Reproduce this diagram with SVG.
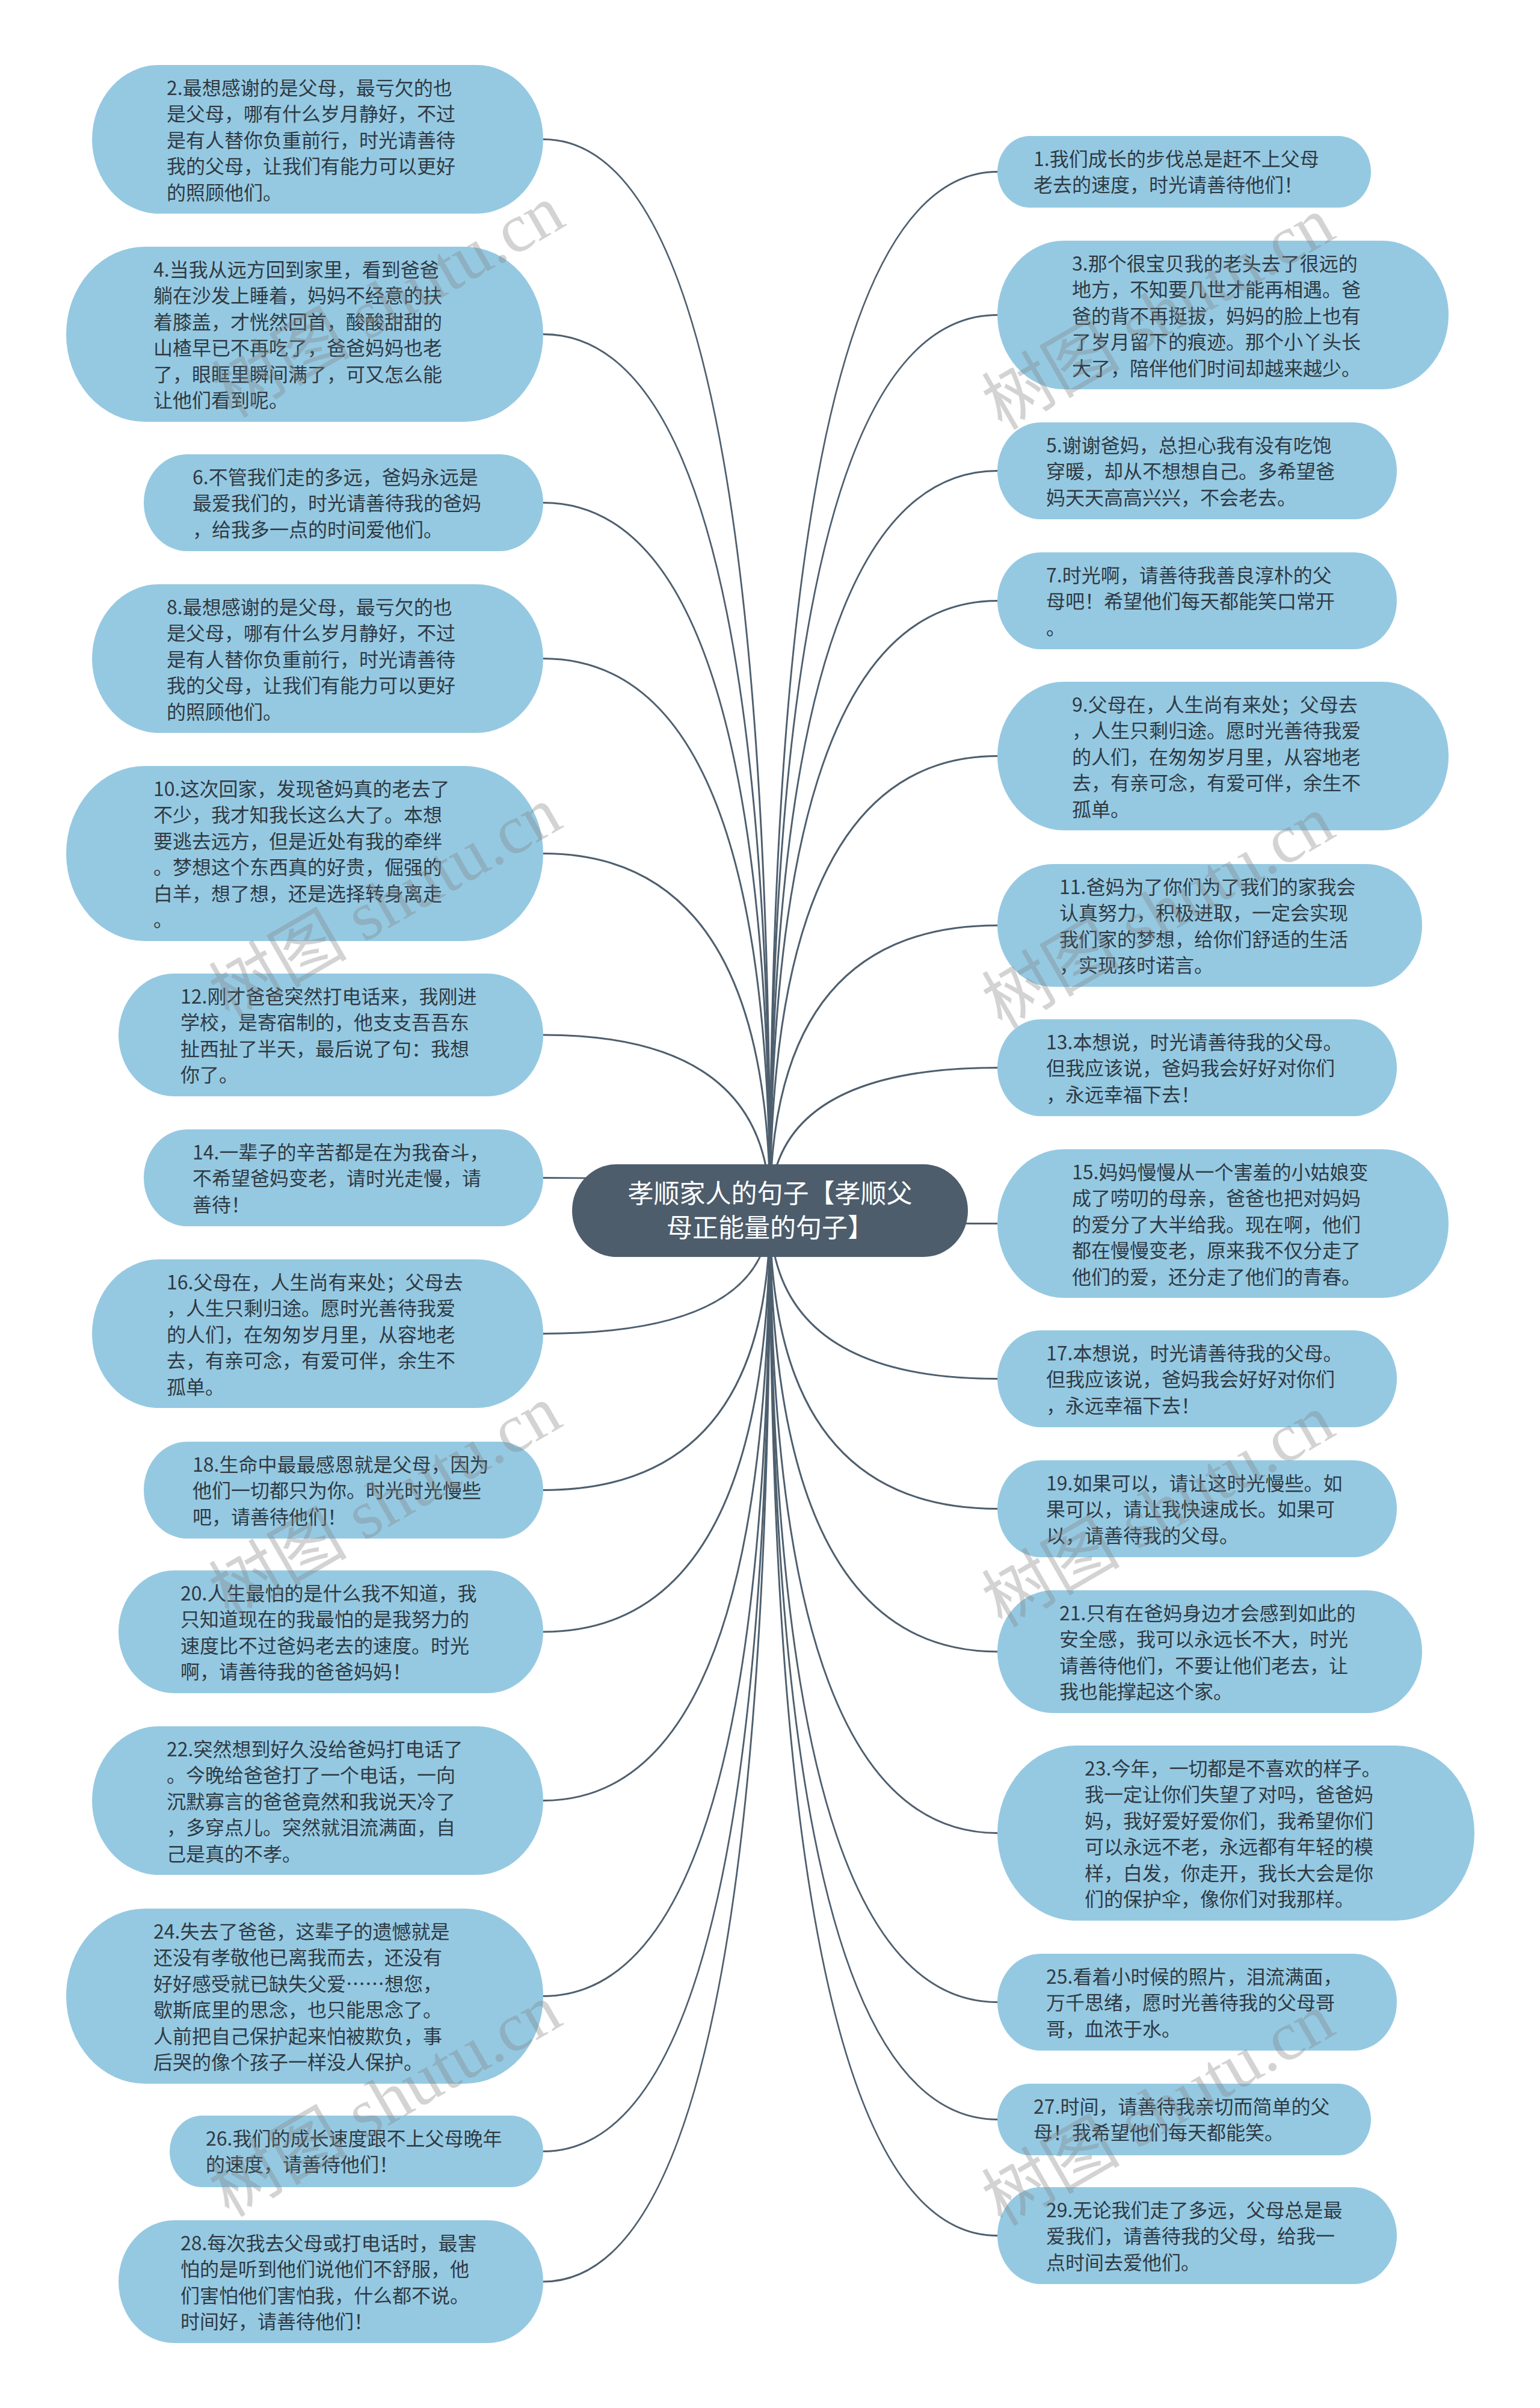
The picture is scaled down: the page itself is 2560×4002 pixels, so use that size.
<svg xmlns="http://www.w3.org/2000/svg" width="2560" height="4002" viewBox="0 0 2560 4002">
<style>
.leaf{fill:#95C9E2}
.t{font-family:"Noto Sans CJK SC","Noto Sans",sans-serif;font-size:32px;fill:#2F3A43}
.ct{font-family:"Noto Sans CJK SC","Noto Sans",sans-serif;font-size:43px;fill:#FFFFFF;text-anchor:middle}
.c{stroke:#4E5F6E;stroke-width:3;fill:none}
.wm{font-family:"Liberation Serif","Noto Sans CJK SC",serif;font-size:115px;fill:#808080;fill-opacity:0.35;text-anchor:middle}
</style>
<rect width="2560" height="4002" fill="#FFFFFF"/>
<g id="connectors">
<path class="c" d="M903 231.5Q1280 231.5 1280 2012"/>
<path class="c" d="M903 555.5Q1280 555.5 1280 2012"/>
<path class="c" d="M903 835.5Q1280 835.5 1280 2012"/>
<path class="c" d="M903 1094.5Q1280 1094.5 1280 2012"/>
<path class="c" d="M903 1418.5Q1280 1418.5 1280 2012"/>
<path class="c" d="M903 1720Q1280 1720 1280 2012"/>
<path class="c" d="M903 1957.5Q1280 1957.5 1280 2012"/>
<path class="c" d="M903 2216.5Q1280 2216.5 1280 2012"/>
<path class="c" d="M903 2476.5Q1280 2476.5 1280 2012"/>
<path class="c" d="M903 2712Q1280 2712 1280 2012"/>
<path class="c" d="M903 2992.5Q1280 2992.5 1280 2012"/>
<path class="c" d="M903 3317.5Q1280 3317.5 1280 2012"/>
<path class="c" d="M903 3575.5Q1280 3575.5 1280 2012"/>
<path class="c" d="M903 3792Q1280 3792 1280 2012"/>
<path class="c" d="M1658 285.5Q1280 285.5 1280 2012"/>
<path class="c" d="M1658 523.5Q1280 523.5 1280 2012"/>
<path class="c" d="M1658 782.5Q1280 782.5 1280 2012"/>
<path class="c" d="M1658 998.5Q1280 998.5 1280 2012"/>
<path class="c" d="M1658 1256.5Q1280 1256.5 1280 2012"/>
<path class="c" d="M1658 1538Q1280 1538 1280 2012"/>
<path class="c" d="M1658 1774.5Q1280 1774.5 1280 2012"/>
<path class="c" d="M1658 2033.5Q1280 2033.5 1280 2012"/>
<path class="c" d="M1658 2291.5Q1280 2291.5 1280 2012"/>
<path class="c" d="M1658 2507.5Q1280 2507.5 1280 2012"/>
<path class="c" d="M1658 2745Q1280 2745 1280 2012"/>
<path class="c" d="M1658 3046.5Q1280 3046.5 1280 2012"/>
<path class="c" d="M1658 3327.5Q1280 3327.5 1280 2012"/>
<path class="c" d="M1658 3522.5Q1280 3522.5 1280 2012"/>
<path class="c" d="M1658 3715.5Q1280 3715.5 1280 2012"/>
</g>
<g id="center">
<rect x="951" y="1935" width="658" height="154" rx="74" ry="77" fill="#4D5D6C"/>
<text class="ct"><tspan x="1280" y="1999">孝顺家人的句子【孝顺父</tspan><tspan x="1280" y="2056">母正能量的句子】</tspan></text>
</g>
<g id="n2"><rect class="leaf" x="153" y="108" width="750" height="247" rx="111" ry="123.5"/>
<text class="t"><tspan x="277" y="158">2.最想感谢的是父母，最亏欠的也</tspan><tspan x="277" y="201.4">是父母，哪有什么岁月静好，不过</tspan><tspan x="277" y="244.8">是有人替你负重前行，时光请善待</tspan><tspan x="277" y="288.2">我的父母，让我们有能力可以更好</tspan><tspan x="277" y="331.6">的照顾他们。</tspan></text></g>
<g id="n4"><rect class="leaf" x="110" y="410" width="793" height="291" rx="131" ry="145.5"/>
<text class="t"><tspan x="255" y="460">4.当我从远方回到家里，看到爸爸</tspan><tspan x="255" y="503.4">躺在沙发上睡着，妈妈不经意的扶</tspan><tspan x="255" y="546.8">着膝盖，才恍然回首，酸酸甜甜的</tspan><tspan x="255" y="590.2">山楂早已不再吃了，爸爸妈妈也老</tspan><tspan x="255" y="633.6">了，眼眶里瞬间满了，可又怎么能</tspan><tspan x="255" y="677">让他们看到呢。</tspan></text></g>
<g id="n6"><rect class="leaf" x="239" y="755" width="664" height="161" rx="72" ry="80.5"/>
<text class="t"><tspan x="320" y="805">6.不管我们走的多远，爸妈永远是</tspan><tspan x="320" y="848.4">最爱我们的，时光请善待我的爸妈</tspan><tspan x="320" y="891.8">，给我多一点的时间爱他们。</tspan></text></g>
<g id="n8"><rect class="leaf" x="153" y="971" width="750" height="247" rx="111" ry="123.5"/>
<text class="t"><tspan x="277" y="1021">8.最想感谢的是父母，最亏欠的也</tspan><tspan x="277" y="1064.4">是父母，哪有什么岁月静好，不过</tspan><tspan x="277" y="1107.8">是有人替你负重前行，时光请善待</tspan><tspan x="277" y="1151.2">我的父母，让我们有能力可以更好</tspan><tspan x="277" y="1194.6">的照顾他们。</tspan></text></g>
<g id="n10"><rect class="leaf" x="110" y="1273" width="793" height="291" rx="131" ry="145.5"/>
<text class="t"><tspan x="255" y="1323">10.这次回家，发现爸妈真的老去了</tspan><tspan x="255" y="1366.4">不少，我才知我长这么大了。本想</tspan><tspan x="255" y="1409.8">要逃去远方，但是近处有我的牵绊</tspan><tspan x="255" y="1453.2">。梦想这个东西真的好贵，倔强的</tspan><tspan x="255" y="1496.6">白羊，想了想，还是选择转身离走</tspan><tspan x="255" y="1540">。</tspan></text></g>
<g id="n12"><rect class="leaf" x="197" y="1618" width="706" height="204" rx="92" ry="102"/>
<text class="t"><tspan x="300" y="1668">12.刚才爸爸突然打电话来，我刚进</tspan><tspan x="300" y="1711.4">学校，是寄宿制的，他支支吾吾东</tspan><tspan x="300" y="1754.8">扯西扯了半天，最后说了句：我想</tspan><tspan x="300" y="1798.2">你了。</tspan></text></g>
<g id="n14"><rect class="leaf" x="239" y="1877" width="664" height="161" rx="72" ry="80.5"/>
<text class="t"><tspan x="320" y="1927">14.一辈子的辛苦都是在为我奋斗，</tspan><tspan x="320" y="1970.4">不希望爸妈变老，请时光走慢，请</tspan><tspan x="320" y="2013.8">善待！</tspan></text></g>
<g id="n16"><rect class="leaf" x="153" y="2093" width="750" height="247" rx="111" ry="123.5"/>
<text class="t"><tspan x="277" y="2143">16.父母在，人生尚有来处；父母去</tspan><tspan x="277" y="2186.4">，人生只剩归途。愿时光善待我爱</tspan><tspan x="277" y="2229.8">的人们，在匆匆岁月里，从容地老</tspan><tspan x="277" y="2273.2">去，有亲可念，有爱可伴，余生不</tspan><tspan x="277" y="2316.6">孤单。</tspan></text></g>
<g id="n18"><rect class="leaf" x="239" y="2396" width="664" height="161" rx="72" ry="80.5"/>
<text class="t"><tspan x="320" y="2446">18.生命中最最感恩就是父母，因为</tspan><tspan x="320" y="2489.4">他们一切都只为你。时光时光慢些</tspan><tspan x="320" y="2532.8">吧，请善待他们！</tspan></text></g>
<g id="n20"><rect class="leaf" x="197" y="2610" width="706" height="204" rx="92" ry="102"/>
<text class="t"><tspan x="300" y="2660">20.人生最怕的是什么我不知道，我</tspan><tspan x="300" y="2703.4">只知道现在的我最怕的是我努力的</tspan><tspan x="300" y="2746.8">速度比不过爸妈老去的速度。时光</tspan><tspan x="300" y="2790.2">啊，请善待我的爸爸妈妈！</tspan></text></g>
<g id="n22"><rect class="leaf" x="153" y="2869" width="750" height="247" rx="111" ry="123.5"/>
<text class="t"><tspan x="277" y="2919">22.突然想到好久没给爸妈打电话了</tspan><tspan x="277" y="2962.4">。今晚给爸爸打了一个电话，一向</tspan><tspan x="277" y="3005.8">沉默寡言的爸爸竟然和我说天冷了</tspan><tspan x="277" y="3049.2">，多穿点儿。突然就泪流满面，自</tspan><tspan x="277" y="3092.6">己是真的不孝。</tspan></text></g>
<g id="n24"><rect class="leaf" x="110" y="3172" width="793" height="291" rx="131" ry="145.5"/>
<text class="t"><tspan x="255" y="3222">24.失去了爸爸，这辈子的遗憾就是</tspan><tspan x="255" y="3265.4">还没有孝敬他已离我而去，还没有</tspan><tspan x="255" y="3308.8">好好感受就已缺失父爱……想您，</tspan><tspan x="255" y="3352.2">歇斯底里的思念，也只能思念了。</tspan><tspan x="255" y="3395.6">人前把自己保护起来怕被欺负，事</tspan><tspan x="255" y="3439">后哭的像个孩子一样没人保护。</tspan></text></g>
<g id="n26"><rect class="leaf" x="282" y="3516" width="621" height="119" rx="54" ry="59.5"/>
<text class="t"><tspan x="342" y="3566">26.我们的成长速度跟不上父母晚年</tspan><tspan x="342" y="3609.4">的速度，请善待他们！</tspan></text></g>
<g id="n28"><rect class="leaf" x="197" y="3690" width="706" height="204" rx="92" ry="102"/>
<text class="t"><tspan x="300" y="3740">28.每次我去父母或打电话时，最害</tspan><tspan x="300" y="3783.4">怕的是听到他们说他们不舒服，他</tspan><tspan x="300" y="3826.8">们害怕他们害怕我，什么都不说。</tspan><tspan x="300" y="3870.2">时间好，请善待他们！</tspan></text></g>
<g id="n1"><rect class="leaf" x="1658" y="226" width="621" height="119" rx="54" ry="59.5"/>
<text class="t"><tspan x="1718" y="276">1.我们成长的步伐总是赶不上父母</tspan><tspan x="1718" y="319.4">老去的速度，时光请善待他们！</tspan></text></g>
<g id="n3"><rect class="leaf" x="1658" y="400" width="750" height="247" rx="111" ry="123.5"/>
<text class="t"><tspan x="1782" y="450">3.那个很宝贝我的老头去了很远的</tspan><tspan x="1782" y="493.4">地方，不知要几世才能再相遇。爸</tspan><tspan x="1782" y="536.8">爸的背不再挺拔，妈妈的脸上也有</tspan><tspan x="1782" y="580.2">了岁月留下的痕迹。那个小丫头长</tspan><tspan x="1782" y="623.6">大了，陪伴他们时间却越来越少。</tspan></text></g>
<g id="n5"><rect class="leaf" x="1658" y="702" width="664" height="161" rx="72" ry="80.5"/>
<text class="t"><tspan x="1739" y="752">5.谢谢爸妈，总担心我有没有吃饱</tspan><tspan x="1739" y="795.4">穿暖，却从不想想自己。多希望爸</tspan><tspan x="1739" y="838.8">妈天天高高兴兴，不会老去。</tspan></text></g>
<g id="n7"><rect class="leaf" x="1658" y="918" width="664" height="161" rx="72" ry="80.5"/>
<text class="t"><tspan x="1739" y="968">7.时光啊，请善待我善良淳朴的父</tspan><tspan x="1739" y="1011.4">母吧！希望他们每天都能笑口常开</tspan><tspan x="1739" y="1054.8">。</tspan></text></g>
<g id="n9"><rect class="leaf" x="1658" y="1133" width="750" height="247" rx="111" ry="123.5"/>
<text class="t"><tspan x="1782" y="1183">9.父母在，人生尚有来处；父母去</tspan><tspan x="1782" y="1226.4">，人生只剩归途。愿时光善待我爱</tspan><tspan x="1782" y="1269.8">的人们，在匆匆岁月里，从容地老</tspan><tspan x="1782" y="1313.2">去，有亲可念，有爱可伴，余生不</tspan><tspan x="1782" y="1356.6">孤单。</tspan></text></g>
<g id="n11"><rect class="leaf" x="1658" y="1436" width="706" height="204" rx="92" ry="102"/>
<text class="t"><tspan x="1761" y="1486">11.爸妈为了你们为了我们的家我会</tspan><tspan x="1761" y="1529.4">认真努力，积极进取，一定会实现</tspan><tspan x="1761" y="1572.8">我们家的梦想，给你们舒适的生活</tspan><tspan x="1761" y="1616.2">，实现孩时诺言。</tspan></text></g>
<g id="n13"><rect class="leaf" x="1658" y="1694" width="664" height="161" rx="72" ry="80.5"/>
<text class="t"><tspan x="1739" y="1744">13.本想说，时光请善待我的父母。</tspan><tspan x="1739" y="1787.4">但我应该说，爸妈我会好好对你们</tspan><tspan x="1739" y="1830.8">，永远幸福下去！</tspan></text></g>
<g id="n15"><rect class="leaf" x="1658" y="1910" width="750" height="247" rx="111" ry="123.5"/>
<text class="t"><tspan x="1782" y="1960">15.妈妈慢慢从一个害羞的小姑娘变</tspan><tspan x="1782" y="2003.4">成了唠叨的母亲，爸爸也把对妈妈</tspan><tspan x="1782" y="2046.8">的爱分了大半给我。现在啊，他们</tspan><tspan x="1782" y="2090.2">都在慢慢变老，原来我不仅分走了</tspan><tspan x="1782" y="2133.6">他们的爱，还分走了他们的青春。</tspan></text></g>
<g id="n17"><rect class="leaf" x="1658" y="2211" width="664" height="161" rx="72" ry="80.5"/>
<text class="t"><tspan x="1739" y="2261">17.本想说，时光请善待我的父母。</tspan><tspan x="1739" y="2304.4">但我应该说，爸妈我会好好对你们</tspan><tspan x="1739" y="2347.8">，永远幸福下去！</tspan></text></g>
<g id="n19"><rect class="leaf" x="1658" y="2427" width="664" height="161" rx="72" ry="80.5"/>
<text class="t"><tspan x="1739" y="2477">19.如果可以，请让这时光慢些。如</tspan><tspan x="1739" y="2520.4">果可以，请让我快速成长。如果可</tspan><tspan x="1739" y="2563.8">以，请善待我的父母。</tspan></text></g>
<g id="n21"><rect class="leaf" x="1658" y="2643" width="706" height="204" rx="92" ry="102"/>
<text class="t"><tspan x="1761" y="2693">21.只有在爸妈身边才会感到如此的</tspan><tspan x="1761" y="2736.4">安全感，我可以永远长不大，时光</tspan><tspan x="1761" y="2779.8">请善待他们，不要让他们老去，让</tspan><tspan x="1761" y="2823.2">我也能撑起这个家。</tspan></text></g>
<g id="n23"><rect class="leaf" x="1658" y="2901" width="793" height="291" rx="131" ry="145.5"/>
<text class="t"><tspan x="1803" y="2951">23.今年，一切都是不喜欢的样子。</tspan><tspan x="1803" y="2994.4">我一定让你们失望了对吗，爸爸妈</tspan><tspan x="1803" y="3037.8">妈，我好爱好爱你们，我希望你们</tspan><tspan x="1803" y="3081.2">可以永远不老，永远都有年轻的模</tspan><tspan x="1803" y="3124.6">样，白发，你走开，我长大会是你</tspan><tspan x="1803" y="3168">们的保护伞，像你们对我那样。</tspan></text></g>
<g id="n25"><rect class="leaf" x="1658" y="3247" width="664" height="161" rx="72" ry="80.5"/>
<text class="t"><tspan x="1739" y="3297">25.看着小时候的照片，泪流满面，</tspan><tspan x="1739" y="3340.4">万千思绪，愿时光善待我的父母哥</tspan><tspan x="1739" y="3383.8">哥，血浓于水。</tspan></text></g>
<g id="n27"><rect class="leaf" x="1658" y="3463" width="621" height="119" rx="54" ry="59.5"/>
<text class="t"><tspan x="1718" y="3513">27.时间，请善待我亲切而简单的父</tspan><tspan x="1718" y="3556.4">母！我希望他们每天都能笑。</tspan></text></g>
<g id="n29"><rect class="leaf" x="1658" y="3635" width="664" height="161" rx="72" ry="80.5"/>
<text class="t"><tspan x="1739" y="3685">29.无论我们走了多远，父母总是最</tspan><tspan x="1739" y="3728.4">爱我们，请善待我的父母，给我一</tspan><tspan x="1739" y="3771.8">点时间去爱他们。</tspan></text></g>
<g id="watermarks">
<text class="wm" transform="translate(645 500) rotate(-30)" x="0" y="40">树图 shutu.cn</text>
<text class="wm" transform="translate(1925 520) rotate(-30)" x="0" y="40">树图 shutu.cn</text>
<text class="wm" transform="translate(640 1500) rotate(-30)" x="0" y="40">树图 shutu.cn</text>
<text class="wm" transform="translate(1925 1515) rotate(-30)" x="0" y="40">树图 shutu.cn</text>
<text class="wm" transform="translate(640 2495) rotate(-30)" x="0" y="40">树图 shutu.cn</text>
<text class="wm" transform="translate(1925 2510) rotate(-30)" x="0" y="40">树图 shutu.cn</text>
<text class="wm" transform="translate(640 3490) rotate(-30)" x="0" y="40">树图 shutu.cn</text>
<text class="wm" transform="translate(1925 3505) rotate(-30)" x="0" y="40">树图 shutu.cn</text>
</g>
</svg>
